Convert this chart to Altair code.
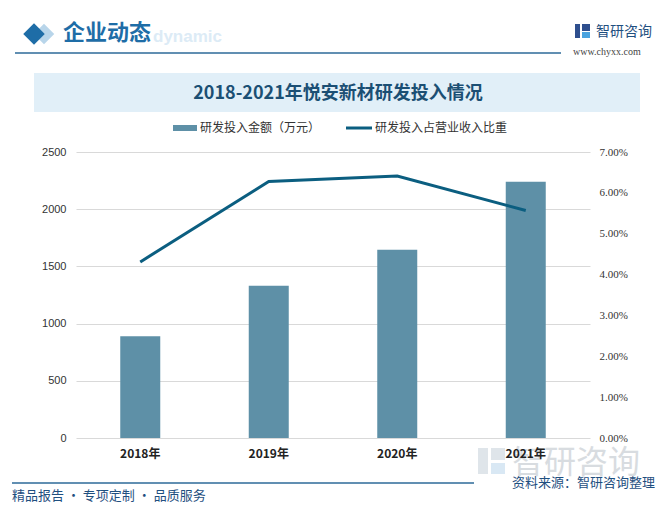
import altair as alt
import pandas as pd

years = ["2018年", "2019年", "2020年", "2021年"]
amount = [890, 1330, 1645, 2240]
ratio = [0.0431, 0.0628, 0.0641, 0.0557]
left_ticks = [0, 500, 1000, 1500, 2000, 2500]
right_ticks = [0, 0.01, 0.02, 0.03, 0.04, 0.05, 0.06, 0.07]

title_text = "2018-2021年悦安新材研发投入情况"
legend_bar = "研发投入金额（万元）"
legend_line = "研发投入占营业收入比重"
header_text = "企业动态"
footer_left = "精品报告 · 专项定制 · 品质服务"
footer_right = "资料来源：智研咨询整理"

df = pd.DataFrame({"year": years, "amount": amount, "ratio": ratio})
one = pd.DataFrame({"a": [1]})

W, H = 514, 286
FONT = "Noto Sans CJK SC"

x = alt.X("year:N", sort=years, title=None,
          scale=alt.Scale(paddingInner=0, paddingOuter=0),
          axis=alt.Axis(labelAngle=0, labelFontWeight="bold", labelFontSize=12,
                        labelPadding=10, domain=False, ticks=False, zindex=2,
                        labelColor="#222222", labelFont=FONT))

bars = alt.Chart(df).mark_bar(size=40, color="#5E90A7").encode(
    x=x,
    y=alt.Y("amount:Q", title=None,
            scale=alt.Scale(domain=[0, 2500], nice=False),
            axis=alt.Axis(values=left_ticks, format="d", grid=True, gridColor="#D9D9D9",
                          domain=False, ticks=False, labelPadding=10,
                          labelFontSize=11, labelColor="#333333",
                          labelFont="Liberation Sans", orient="left")),
)

line = alt.Chart(df).mark_line(color="#0B5E80", strokeWidth=3).encode(
    x=x,
    y=alt.Y("ratio:Q", title=None,
            scale=alt.Scale(domain=[0, 0.07], nice=False),
            axis=alt.Axis(values=right_ticks, format=".2%", grid=False,
                          domain=False, ticks=False, labelPadding=9,
                          labelFontSize=11, labelColor="#333333",
                          labelFont="Liberation Serif", orient="right")),
)

def txt(s, px, py, size=12, color="#333333", align="left", weight="normal", font=FONT, opacity=1.0):
    return alt.Chart(one).mark_text(
        text=s, align=align, baseline="middle", fontSize=size, color=color,
        fontWeight=weight, font=font, opacity=opacity
    ).encode(x=alt.value(px - 76), y=alt.value(py - 152))

def rect(x1, x2, y1, y2, color, opacity=1.0):
    return alt.Chart(one).mark_rect(color=color, opacity=opacity).encode(
        x=alt.value(x1 - 76), x2=alt.value(x2 - 76),
        y=alt.value(y1 - 152), y2=alt.value(y2 - 152))

def hrule(x1, x2, py, color, width=1.5):
    return alt.Chart(one).mark_rule(color=color, strokeWidth=width).encode(
        x=alt.value(x1 - 76), x2=alt.value(x2 - 76), y=alt.value(py - 152))

def diamond(px, py, color, size):
    return alt.Chart(one).mark_point(shape="diamond", filled=True, color=color,
                                     size=size, opacity=1).encode(
        x=alt.value(px - 76), y=alt.value(py - 152))

deco = [
    # header
    txt("dynamic", 153, 37, size=17, color="#DCEBF6", weight="bold", font="Liberation Sans"),
    diamond(44, 34, "#B8D5EA", 420),
    diamond(34, 34, "#1E6DA7", 460),
    txt(header_text, 63, 33, size=22, color="#1E6DA7", weight="bold"),
    hrule(15, 561, 53, "#2D6A99", 1.5),
    rect(575, 580, 24, 38, "#2E4F8E"),
    rect(582, 590, 24, 31, "#2E4F8E"),
    rect(582, 590, 32, 38, "#4AA3DF"),
    txt("智研咨询", 596, 32, size=14, color="#1F4F7F"),
    txt("www.chyxx.com", 573, 52, size=10, color="#444444", font="Liberation Serif"),
    # title band
    rect(34, 640, 73, 112, "#E1EFF8"),
    txt(title_text, 338, 94, size=18, color="#1B4F74", weight="bold", align="center"),
    # legend
    rect(173, 197, 125, 131, "#5E90A7"),
    txt(legend_bar, 200, 128, size=12, color="#333333"),
    hrule(346, 372, 128, "#0B5E80", 3),
    txt(legend_line, 375, 128, size=12, color="#333333"),
    # watermark
    rect(478, 488, 448, 474, "#C9D3DC", 0.6),
    rect(491, 505, 448, 460, "#C9D3DC", 0.6),
    rect(491, 505, 463, 474, "#BFD9EC", 0.6),
    txt("智研咨询", 576, 463, size=32, color="#C8CED4", align="center", opacity=0.7),
    # footer
    hrule(12, 474, 483, "#2D6A99", 1.5),
    txt(footer_left, 12, 496, size=13, color="#1F4F7F"),
    txt(footer_right, 655, 483, size=13, color="#1F4F7F", align="right"),
]

chart = alt.layer(*deco, bars, line).resolve_scale(y="independent").properties(
    width=W, height=H,
    autosize=alt.AutoSizeParams(type="none"),
    padding={"left": 68, "top": 144, "right": 65, "bottom": 70},
    background="white",
).configure_view(stroke=None)

chart.save("out.html", embed_options={"renderer": "svg", "actions": False})
